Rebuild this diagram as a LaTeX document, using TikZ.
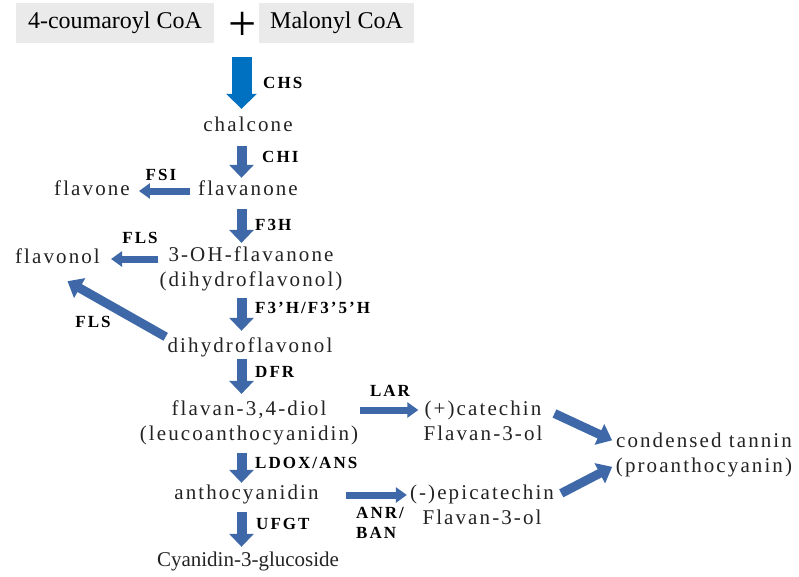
\documentclass[tikz,border=0pt]{standalone}
\usepackage{fontspec}
\setmainfont{Liberation Serif}
\newfontfamily\wfont[LetterSpace=10]{Liberation Serif}
\newfontfamily\lfont[LetterSpace=12]{Liberation Serif}
\usetikzlibrary{arrows.meta}
\definecolor{chsblue}{RGB}{0,112,192}
\definecolor{pwblue}{RGB}{62,104,168}
\definecolor{boxgray}{RGB}{234,234,234}
\definecolor{txtgray}{RGB}{35,35,35}
\tikzset{
  % Gray substrate box
  RB/.style={rectangle,fill=boxgray,minimum width=#1,minimum height=40pt,
             inner sep=0pt,font=\fontsize{24}{28}\selectfont},
  RB/.default=198pt,
  % Metabolite, one line
  MT/.style={inner sep=0pt,text height=14.5pt,text depth=5.5pt,text=txtgray,
             font=\wfont\fontsize{21}{24.5}\selectfont},
  % Metabolite, two lines
  MT2/.style={inner sep=0pt,align=center,text=txtgray,
              font=\wfont\fontsize{21}{24.5}\selectfont},
  % Enzyme label
  EL/.style={inner sep=0pt,anchor=west,align=left,
             font=\lfont\bfseries\fontsize{17}{19.5}\selectfont},
  % Block arrows
  CArr/.style={-{Triangle[length=15pt,width=30pt]},line width=20pt,color=chsblue},
  VArr/.style={-{Triangle[length=13pt,width=24pt]},line width=10pt,color=pwblue,
               shorten <=8pt,shorten >=4pt},
  HArr/.style={-{Triangle[length=11pt,width=15pt]},line width=7pt,color=pwblue},
  DArr/.style={-{Triangle[length=14pt,width=22pt]},line width=9pt,color=pwblue},
}
\begin{document}
\begin{tikzpicture}[x=1pt,y=-1pt]
\useasboundingbox (0,0) rectangle (799,576);
\coordinate (col) at (241.5,0);
% substrates
\node[RB=198pt] at (115,23) (cou) {4-coumaroyl CoA};
\node[font=\fontsize{50}{50}\selectfont,inner sep=0pt] at (243,26) (plus) {+};
\node[RB=155pt] at (336.5,23) (mal) {Malonyl CoA};
% main column
\node[MT] at (248,127) (chal) {chalcone};
\node[MT] at (248,191) (flvn) {flavanone};
\node[MT2] at (251,269) (ohf) {3-OH-flavanone\\(dihydroflavonol)};
\node[MT] at (250,348) (dhf) {dihydroflavonol};
\node[MT2] at (249,423) (diol) {flavan-3,4-diol\\(leucoanthocyanidin)};
\node[MT] at (246.5,495) (anth) {anthocyanidin};
\node[MT,font=\fontsize{21}{25}\selectfont] at (248,562) (cyan) {Cyanidin-3-glucoside};
% side branches
\node[MT] at (92,191) (flvo) {flavone};
\node[MT] at (57.5,259) (flvl) {flavonol};
\node[MT2] at (483,421) (cat) {(+)catechin\\Flavan-3-ol};
\node[MT2] at (482,505) (epi) {(-)epicatechin\\Flavan-3-ol};
\node[MT2] at (704,455) (tan) {condensed tannin\\(proanthocyanin)};
% enzymes
\node[EL] at (263,83) (chs) {CHS};
\node[EL] at (262,157) (chi) {CHI};
\node[EL,anchor=center] at (161,175) (fsi) {FSI};
\node[EL] at (255,225) (f3h) {F3H};
\node[EL,anchor=center] at (140,238) (flsa) {FLS};
\node[EL] at (255,308) (f35h) {F3’H/F3’5’H};
\node[EL,anchor=center] at (93,322) (flsb) {FLS};
\node[EL] at (255,372) (dfr) {DFR};
\node[EL,anchor=center] at (390,391) (lar) {LAR};
\node[EL] at (255,463) (ldox) {LDOX/ANS};
\node[EL] at (356,523) (anr) {ANR/\\BAN};
\node[EL] at (256,524) (ufgt) {UFGT};
% arrows
\draw[CArr,shorten <=17pt,shorten >=8pt] (plus.south -| col) -- (chal.north -| col);
\draw[VArr,shorten <=9pt,shorten >=3pt] (chal.south -| col) -- (flvn.north -| col);
\draw[VArr] (flvn.south -| col) -- (ohf.north -| col);
\draw[VArr,shorten <=7pt,shorten >=7pt] (ohf.south -| col) -- (dhf.north -| col);
\draw[VArr,shorten <=1pt,shorten >=7pt] (dhf.south -| col) -- (diol.north -| col);
\draw[VArr,shorten >=2pt] (diol.south -| col) -- (anth.north -| col);
\draw[VArr,shorten <=7pt,shorten >=5pt] (anth.south -| col) -- (cyan.north -| col);
\draw[HArr,shorten <=8pt,shorten >=9pt] (flvn.west) -- (flvo.east);
\draw[HArr,shorten <=1pt,shorten >=11pt] (ohf.west |- flvl.east) -- (flvl.east);
\draw[DArr,shorten <=2pt] (dhf.north west) -- ([shift={(10,12)}]flvl.south);
\draw[HArr,shorten <=2pt,shorten >=5pt] ([yshift=13pt]diol.east) -- ([yshift=13pt]diol.east -| cat.west);
\draw[HArr,shorten <=27pt,shorten >=3pt] (anth.east) -- (anth.east -| epi.west);
\draw[DArr,shorten <=13pt,shorten >=4pt] ([yshift=13pt]cat.east) -- ([yshift=13pt]tan.west);
\draw[DArr,shorten <=8pt,shorten >=4pt] ([yshift=8pt]epi.east) -- ([yshift=-10pt]tan.west);
\end{tikzpicture}
\end{document}
